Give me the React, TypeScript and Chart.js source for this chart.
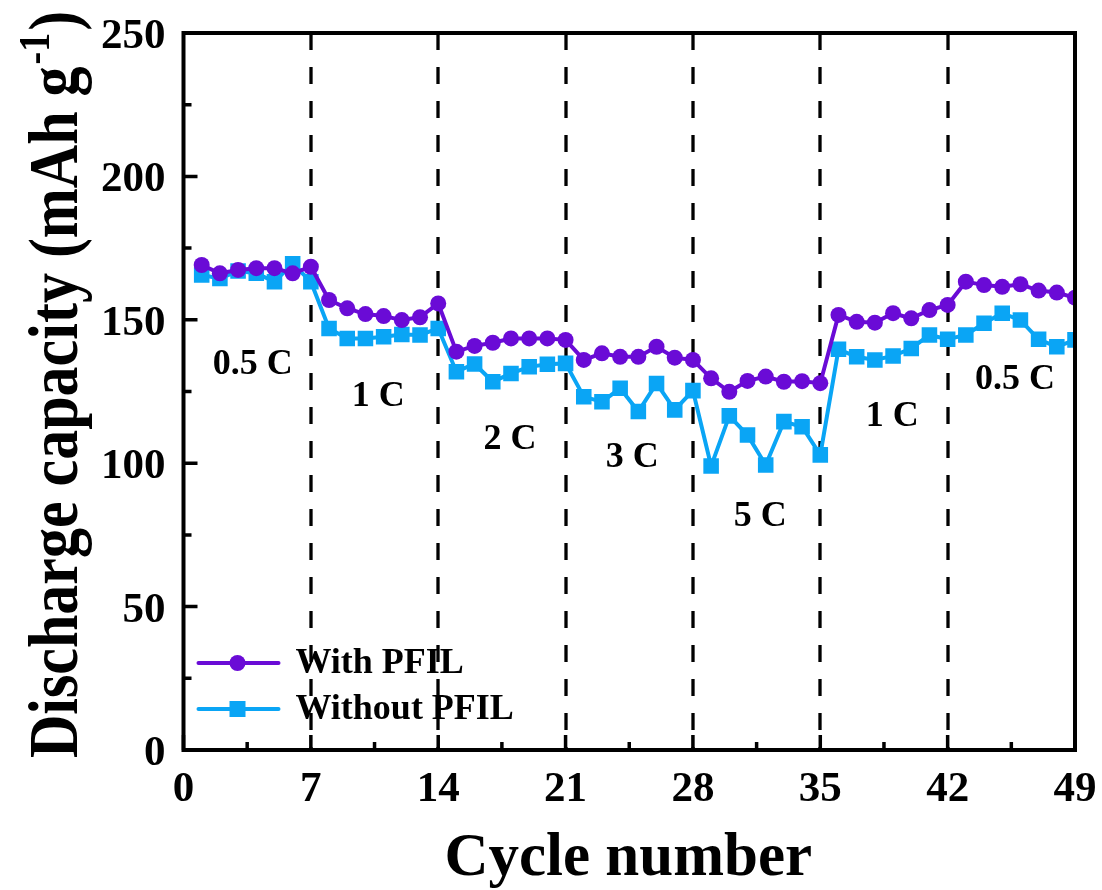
import React, { useEffect, useRef } from 'react';
import { Chart, registerables } from 'chart.js';

Chart.register(...registerables);

// ---- data ----
const cycles = [
  1, 2, 3, 4, 5, 6, 7, 8, 9, 10, 11, 12, 13, 14, 15, 16, 17, 18, 19, 20, 21, 22, 23, 24, 25,
  26, 27, 28, 29, 30, 31, 32, 33, 34, 35, 36, 37, 38, 39, 40, 41, 42, 43, 44, 45, 46, 47, 48, 49,
];
const withPFIL = [
  169.1, 166.2, 167.4, 168.0, 168.0, 166.2, 168.5,
  156.9, 154.0, 152.0, 151.3, 149.9, 150.9, 155.7,
  138.9, 140.9, 142.0, 143.5, 143.5, 143.5, 143.0,
  136.0, 138.3, 137.1, 137.1, 140.6, 136.8, 136.0,
  129.6, 124.9, 128.7, 130.2, 128.4, 128.6, 127.9,
  151.7, 149.3, 149.0, 152.3, 150.5, 153.4, 155.2,
  163.3, 162.1, 161.5, 162.4, 160.2, 159.5, 157.7,
];
const withoutPFIL = [
  165.6, 164.4, 167.0, 166.2, 163.3, 169.5, 163.3,
  147.0, 143.5, 143.5, 144.1, 144.9, 144.7, 147.0,
  131.9, 134.6, 128.4, 131.3, 133.6, 134.5, 134.8,
  123.2, 121.4, 126.1, 118.0, 127.8, 118.6, 125.3,
  99.0, 116.5, 109.8, 99.4, 114.5, 112.7, 102.9,
  139.7, 137.1, 136.0, 137.4, 140.0, 144.7, 143.2,
  144.7, 148.8, 152.3, 149.9, 143.2, 140.6, 143.0,
];
const seriesNames = ['With PFIL', 'Without PFIL'];
const xTicks = [0, 7, 14, 21, 28, 35, 42, 49];
const yTicks = [0, 50, 100, 150, 200, 250];
const rateDividers = [7, 14, 21, 28, 35, 42];
const rateLabels = ['0.5 C', '1 C', '2 C', '3 C', '5 C', '1 C', '0.5 C'];
const rateLabelCycle = [3.8, 10.7, 17.95, 24.66, 31.7, 38.95, 45.7];
const rateLabelCapacity = [134.2, 123.1, 108.1, 101.8, 81.2, 116.1, 129.0];
const xTitle = 'Cycle number';
const yTitleMain = 'Discharge capacity (mAh g';
const yTitleSup = '-1';
const yTitleEnd = ')';

// ---- style ----
const PURPLE = '#6a0bd6';
const BLUE = '#0aa5f5';
const FONT = '"Liberation Serif", "Times New Roman", serif';

const decorPlugin = {
  id: 'decor',
  beforeDatasetsDraw(chart: any) {
    const { ctx, chartArea, scales } = chart;
    const x = scales.x;
    ctx.save();
    ctx.strokeStyle = '#000';
    ctx.lineWidth = 3.3;
    ctx.setLineDash([17, 17]);
    rateDividers.forEach((c) => {
      const px = Math.round(x.getPixelForValue(c));
      ctx.beginPath();
      ctx.moveTo(px, chartArea.top);
      ctx.lineTo(px, chartArea.bottom);
      ctx.stroke();
    });
    ctx.restore();
  },
  afterDraw(chart: any) {
    const { ctx, chartArea, scales } = chart;
    const { left, right, top, bottom } = chartArea;
    const x = scales.x;
    const y = scales.y;
    ctx.save();
    ctx.setLineDash([]);
    ctx.strokeStyle = '#000';
    ctx.lineWidth = 4;
    ctx.strokeRect(left, top, right - left, bottom - top);

    // inward ticks
    ctx.lineWidth = 3.5;
    ctx.beginPath();
    xTicks.forEach((t, i) => {
      const px = x.getPixelForValue(t);
      ctx.moveTo(px, bottom);
      ctx.lineTo(px, bottom - 15);
      if (i < xTicks.length - 1) {
        const pm = x.getPixelForValue((t + xTicks[i + 1]) / 2);
        ctx.moveTo(pm, bottom);
        ctx.lineTo(pm, bottom - 8);
      }
    });
    yTicks.forEach((t, i) => {
      const py = y.getPixelForValue(t);
      ctx.moveTo(left, py);
      ctx.lineTo(left + 14, py);
      if (i < yTicks.length - 1) {
        const pm = y.getPixelForValue((t + yTicks[i + 1]) / 2);
        ctx.moveTo(left, pm);
        ctx.lineTo(left + 8, pm);
      }
    });
    ctx.stroke();

    // tick labels
    ctx.fillStyle = '#000';
    ctx.font = `bold 43px ${FONT}`;
    ctx.textBaseline = 'alphabetic';
    ctx.textAlign = 'center';
    xTicks.forEach((t) => {
      ctx.fillText(String(t), x.getPixelForValue(t), bottom + 51);
    });
    ctx.textAlign = 'right';
    yTicks.forEach((t) => {
      ctx.fillText(String(t), left - 18, y.getPixelForValue(t) + 15);
    });

    // rate labels
    ctx.font = `bold 36px ${FONT}`;
    ctx.textAlign = 'center';
    ctx.textBaseline = 'middle';
    rateLabels.forEach((lab, i) => {
      ctx.fillText(lab, x.getPixelForValue(rateLabelCycle[i]), y.getPixelForValue(rateLabelCapacity[i]));
    });

    // legend
    const lx0 = left + 15;
    const lx1 = left + 95;
    const lmx = left + 54;
    const ly1 = bottom - 87;
    const ly2 = bottom - 41;
    ctx.lineWidth = 4;
    ctx.lineCap = 'round';
    ctx.strokeStyle = PURPLE;
    ctx.beginPath();
    ctx.moveTo(lx0, ly1);
    ctx.lineTo(lx1, ly1);
    ctx.stroke();
    ctx.fillStyle = PURPLE;
    ctx.beginPath();
    ctx.arc(lmx, ly1, 8, 0, Math.PI * 2);
    ctx.fill();
    ctx.strokeStyle = BLUE;
    ctx.beginPath();
    ctx.moveTo(lx0, ly2);
    ctx.lineTo(lx1, ly2);
    ctx.stroke();
    ctx.fillStyle = BLUE;
    ctx.fillRect(lmx - 8, ly2 - 8, 16, 16);
    ctx.fillStyle = '#000';
    ctx.font = `bold 36px ${FONT}`;
    ctx.textAlign = 'left';
    ctx.textBaseline = 'middle';
    ctx.fillText(seriesNames[0], left + 112, ly1 + 1);
    ctx.fillText(seriesNames[1], left + 112, ly2 + 1);

    // x title
    ctx.font = `bold 61px ${FONT}`;
    ctx.textAlign = 'center';
    ctx.textBaseline = 'alphabetic';
    ctx.fillText(xTitle, (left + right) / 2 - 1, 875);

    // y title (rotated, with superscript)
    ctx.save();
    ctx.translate(77, 758);
    ctx.rotate(-Math.PI / 2);
    ctx.scale(1, 1.15);
    ctx.textAlign = 'left';
    ctx.textBaseline = 'alphabetic';
    ctx.font = `bold 60px ${FONT}`;
    ctx.fillText(yTitleMain, 0, 0);
    let w = ctx.measureText(yTitleMain).width;
    ctx.font = `bold 38px ${FONT}`;
    ctx.fillText(yTitleSup, w + 2, -24);
    w += ctx.measureText(yTitleSup).width + 4;
    ctx.font = `bold 60px ${FONT}`;
    ctx.fillText(yTitleEnd, w, 0);
    ctx.restore();

    ctx.restore();
  },
};

export default function App() {
  const ref = useRef<HTMLCanvasElement | null>(null);
  useEffect(() => {
    if (!ref.current) return;
    const chart = new Chart(ref.current, {
      type: 'line',
      data: {
        datasets: [
          {
            label: seriesNames[0],
            data: cycles.map((c, i) => ({ x: c, y: withPFIL[i] })),
            borderColor: PURPLE,
            backgroundColor: PURPLE,
            borderWidth: 4,
            pointStyle: 'circle',
            pointRadius: 8,
            pointBorderWidth: 0,
            pointBackgroundColor: PURPLE,
            tension: 0,
          },
          {
            label: seriesNames[1],
            data: cycles.map((c, i) => ({ x: c, y: withoutPFIL[i] })),
            borderColor: BLUE,
            backgroundColor: BLUE,
            borderWidth: 4,
            pointStyle: 'rect',
            pointRadius: 11,
            pointBorderWidth: 0,
            pointBackgroundColor: BLUE,
            tension: 0,
          },
        ],
      },
      options: {
        responsive: false,
        animation: false,
        devicePixelRatio: 1,
        layout: { padding: { left: 0, top: 33, right: 27, bottom: 0 } },
        plugins: { legend: { display: false }, tooltip: { enabled: false } },
        scales: {
          x: {
            type: 'linear',
            min: 0,
            max: 49,
            afterFit: (s: any) => {
              s.height = 140;
            },
            afterBuildTicks: (s: any) => {
              s.ticks = xTicks.map((v) => ({ value: v }));
            },
            grid: { display: false, drawTicks: false },
            border: { display: false },
            ticks: { display: false },
          },
          y: {
            type: 'linear',
            min: 0,
            max: 250,
            afterFit: (s: any) => {
              s.width = 183.5;
            },
            afterBuildTicks: (s: any) => {
              s.ticks = yTicks.map((v) => ({ value: v }));
            },
            grid: { display: false, drawTicks: false },
            border: { display: false },
            ticks: { display: false },
          },
        },
      },
      plugins: [decorPlugin],
    } as any);
    return () => chart.destroy();
  }, []);
  return (
    <div style={{ position: 'fixed', left: 0, top: 0, width: 1102, height: 890, background: '#fff' }}>
      <canvas ref={ref} width={1102} height={890} style={{ display: 'block' }} />
    </div>
  );
}
